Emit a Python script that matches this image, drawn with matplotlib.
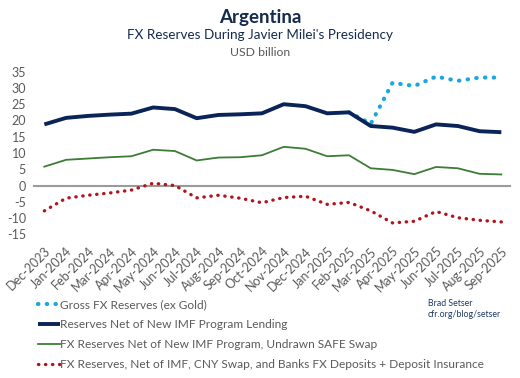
import matplotlib
matplotlib.use("Agg")
import matplotlib.pyplot as plt
import numpy as np

months = ["Dec-2023", "Jan-2024", "Feb-2024", "Mar-2024", "Apr-2024", "May-2024", "Jun-2024",
          "Jul-2024", "Aug-2024", "Sep-2024", "Oct-2024", "Nov-2024", "Dec-2024", "Jan-2025",
          "Feb-2025", "Mar-2025", "Apr-2025", "May-2025", "Jun-2025", "Jul-2025", "Aug-2025",
          "Sep-2025"]

gross = [None] * 14 + [22.5, 19.0, 31.6, 30.6, 33.5, 32.2, 33.2, 33.2]
net_imf = [18.8, 20.8, 21.4, 21.8, 22.1, 24.0, 23.5, 20.7, 21.7, 21.9, 22.2, 25.0, 24.4, 22.2,
           22.5, 18.3, 17.8, 16.5, 18.8, 18.3, 16.7, 16.4]
net_safe = [5.8, 7.9, 8.3, 8.7, 9.0, 11.0, 10.6, 7.7, 8.6, 8.7, 9.3, 11.9, 11.3, 9.0,
            9.3, 5.3, 4.8, 3.5, 5.7, 5.3, 3.6, 3.4]
net_all = [-7.8, -3.9, -3.0, -2.3, -1.4, 0.7, 0.0, -3.8, -3.0, -3.9, -5.3, -3.7, -3.3, -5.8,
           -5.2, -7.8, -11.5, -11.0, -8.0, -9.9, -10.7, -11.2]
yticks = [35, 30, 25, 20, 15, 10, 5, 0, -5, -10, -15]

labels = ["Gross FX Reserves (ex Gold)",
          "Reserves Net of New IMF Program Lending",
          "FX Reserves Net of New IMF Program, Undrawn SAFE Swap",
          "FX Reserves, Net of IMF, CNY Swap, and Banks FX Deposits + Deposit Insurance"]

plt.rcParams['font.family'] = ['Lato', 'DejaVu Sans']
NAVY = "#0a2457"
GREEN = "#3b7d35"
RED = "#b3141c"
BLUE = "#1aa6e2"
GRAY = "#5a5a5a"

fig = plt.figure(figsize=(5.2, 3.78), dpi=100)
ax = fig.add_axes([0.0635, 0.363, 0.919, 0.4645])
x = np.arange(len(months))
gross_arr = np.array([np.nan if v is None else v for v in gross], dtype=float)

ax.axhline(0, color="#9a9a9a", lw=1.5, zorder=1)
l1, = ax.plot(x, gross_arr, color=BLUE, lw=3.0, linestyle=(0, (0.1, 2.0)),
              dash_capstyle='round', zorder=2, label=labels[0])
l2, = ax.plot(x, net_imf, color=NAVY, lw=2.8, zorder=3, label=labels[1],
              solid_capstyle='butt')
l3, = ax.plot(x, net_safe, color=GREEN, lw=1.3, zorder=3, label=labels[2])
l4, = ax.plot(x, net_all, color=RED, lw=2.4, linestyle=(0, (0.1, 2.0)),
              dash_capstyle='round', zorder=3, label=labels[3])

ax.set_xlim(-0.52, 21.44)
ax.set_ylim(-17, 37)
ax.set_yticks(yticks)
ax.set_yticklabels([str(v) for v in yticks])
ax.set_xticks(x)
ax.set_xticklabels(months, rotation=45, ha='right', rotation_mode='anchor')
ax.tick_params(axis='both', length=0, colors=GRAY, labelsize=9)
ax.tick_params(axis='y', pad=5)
ax.tick_params(axis='x', pad=3)
for s in ax.spines.values():
    s.set_visible(False)

fig.text(0.5, 1 - 17 / 378, "Argentina", ha='center', va='center', fontsize=13.5,
         fontweight='bold', color="#142b4d")
fig.text(0.5, 1 - 35 / 378, "FX Reserves During Javier Milei's Presidency", ha='center',
         va='center', fontsize=9.7, color="#142b4d")
fig.text(0.5, 1 - 52 / 378, "USD billion", ha='center', va='center', fontsize=8.8, color=GRAY)

leg = fig.legend(handles=[l1, l2, l3, l4], loc='upper left',
                 bbox_to_anchor=(38 / 520, 1 - 299 / 378), frameon=False, fontsize=8.6,
                 handlelength=1.8, handletextpad=0.0, labelspacing=0.76, borderpad=0,
                 borderaxespad=0)
for t in leg.get_texts():
    t.set_color(GRAY)

fig.text(428 / 520, 1 - 309 / 378, "Brad Setser\ncfr.org/blog/setser", ha='left',
         va='center', fontsize=6.3, color="#1d3a66", linespacing=1.3)

fig.savefig("out.png", dpi=100)
